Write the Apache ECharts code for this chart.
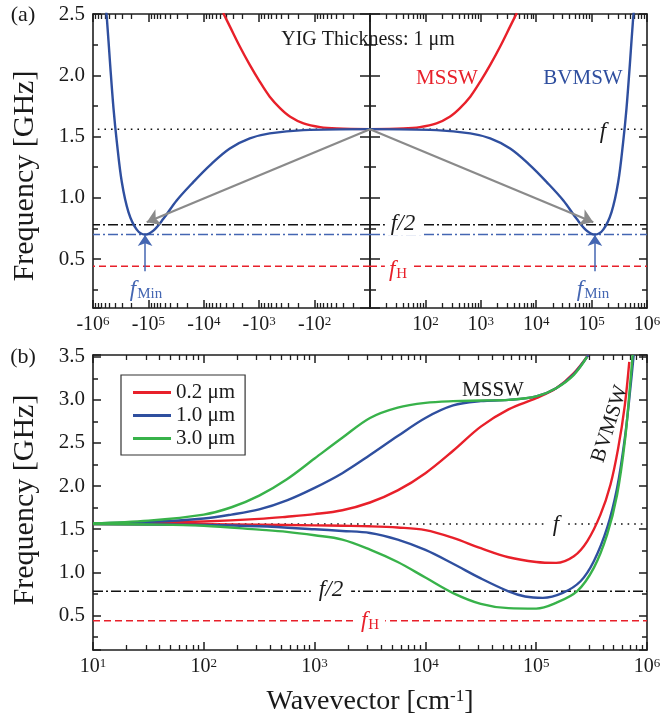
<!DOCTYPE html>
<html><head><meta charset="utf-8">
<script src="https://cdn.jsdelivr.net/npm/echarts@6/dist/echarts.min.js"></script>
<style>html,body{margin:0;padding:0;background:#fff}#c{width:663px;height:722px}</style>
</head><body><div id="c"></div>
<script>
// ---------- DATA ----------
// Panel (a): YIG thickness 1 µm, curves identical for +k and -k (x = log10|k| [cm^-1])
const aMSSWExp = [1.0, 1.6, 1.9, 2.2, 2.44, 2.62, 2.81, 2.99, 3.17, 3.35, 3.53, 3.65];
const aMSSWVal = [1.56, 1.566, 1.577, 1.607, 1.661, 1.73, 1.825, 1.948, 2.085, 2.235, 2.399, 2.508];
const aBVExp = [1.0, 2.2, 2.81, 3.17, 3.53, 3.89, 4.19, 4.49, 4.73, 4.91, 5.06, 5.21, 5.36, 5.48, 5.57, 5.63, 5.69, 5.75, 5.77];
const aBVVal = [1.56, 1.552, 1.525, 1.484, 1.402, 1.265, 1.128, 0.978, 0.828, 0.732, 0.70, 0.74, 0.883, 1.128, 1.456, 1.73, 2.085, 2.467, 2.55];
const fRef = 1.56, fHalf = 0.78, fMinVal = 0.70, fHVal = 0.44;
const arrowTipExp = 5.03, arrowTipVal = 0.80;   // grey arrows
const fMinExp = 5.06, fMinArrowFrom = 0.40;       // blue f_Min arrows

// Panel (b): three thicknesses, MSSW (upper) and BVMSW (lower) branches
const b02UpExp = [1.0, 1.5, 2.0, 2.5, 2.75, 3.0, 3.25, 3.5, 3.75, 4.0, 4.25, 4.5, 4.75, 5.0, 5.18, 5.34, 5.47];
const b02UpVal = [1.565, 1.575, 1.59, 1.62, 1.645, 1.675, 1.72, 1.81, 1.95, 2.15, 2.41, 2.69, 2.89, 3.02, 3.135, 3.31, 3.52];
const b10UpExp = [1.0, 1.5, 2.0, 2.25, 2.5, 2.75, 3.0, 3.25, 3.5, 3.75, 4.0, 4.25, 4.5, 4.75, 5.0, 5.18, 5.34, 5.47];
const b10UpVal = [1.569, 1.585, 1.625, 1.67, 1.73, 1.835, 1.98, 2.15, 2.36, 2.58, 2.79, 2.935, 2.985, 3.0, 3.04, 3.135, 3.3, 3.52];
const b30UpExp = [1.0, 1.5, 2.0, 2.25, 2.5, 2.75, 3.0, 3.25, 3.5, 3.75, 4.0, 4.25, 4.5, 4.75, 5.0, 5.18, 5.34, 5.46];
const b30UpVal = [1.569, 1.60, 1.67, 1.755, 1.89, 2.08, 2.32, 2.56, 2.79, 2.91, 2.965, 2.985, 2.992, 3.0, 3.04, 3.135, 3.29, 3.5];
const b02LoExp = [1.0, 2.0, 2.5, 3.0, 3.25, 3.5, 3.75, 4.0, 4.25, 4.5, 4.75, 5.0, 5.18, 5.34, 5.46, 5.58, 5.67, 5.74, 5.8, 5.84];
const b02LoVal = [1.56, 1.557, 1.553, 1.545, 1.54, 1.534, 1.52, 1.49, 1.40, 1.28, 1.175, 1.12, 1.11, 1.187, 1.36, 1.669, 2.016, 2.44, 2.94, 3.44];
const b10LoExp = [1.0, 2.0, 2.5, 3.0, 3.25, 3.5, 3.75, 4.0, 4.25, 4.5, 4.75, 4.9, 5.06, 5.24, 5.4, 5.52, 5.64, 5.73, 5.8, 5.85, 5.88];
const b10LoVal = [1.56, 1.55, 1.534, 1.50, 1.48, 1.457, 1.38, 1.26, 1.10, 0.93, 0.78, 0.72, 0.704, 0.762, 0.897, 1.129, 1.515, 1.978, 2.556, 3.135, 3.52];
const b30LoExp = [1.0, 1.5, 2.0, 2.5, 2.75, 3.0, 3.25, 3.5, 3.75, 4.0, 4.25, 4.5, 4.75, 5.0, 5.18, 5.37, 5.52, 5.64, 5.73, 5.8, 5.85, 5.87];
const b30LoVal = [1.56, 1.555, 1.54, 1.495, 1.47, 1.43, 1.38, 1.264, 1.12, 0.94, 0.76, 0.635, 0.585, 0.58, 0.647, 0.782, 1.052, 1.437, 1.90, 2.518, 3.21, 3.52];
const legendNames = ['0.2 μm', '1.0 μm', '3.0 μm'];

// tick label values
const decades = [1e1, 1e2, 1e3, 1e4, 1e5, 1e6];
const aXLabels = [1e2, 1e3, 1e4, 1e5, 1e6];

// ---------- STYLE ----------
const FONT = 'Liberation Serif';
const AX = '#1e1e1e';
const RED = '#e8202a', BLUE = '#2f4f9f', GREEN = '#38b24a', GRAY = '#8a8a8a', LBLUE = '#4466b2';
const pts = (ex, va) => ex.map((e, i) => [Math.pow(10, e), va[i]]);
const expOf = v => Math.round(Math.log10(v));

const xAxes = [], yAxes = [];
function addX(o) { xAxes.push(o); return xAxes.length - 1; }
function addY(o) { yAxes.push(o); return yAxes.length - 1; }

const supRich = {
  b: { fontFamily: FONT, fontSize: 20, color: '#1a1a1a', lineHeight: 20, verticalAlign: 'bottom' },
  s: { fontFamily: FONT, fontSize: 13, color: '#1a1a1a', lineHeight: 13, verticalAlign: 'top', padding: [0, 0, 8, 0] }
};
function logX(grid, pos, inverse, labelVals, prefix) {
  return addX({
    type: 'log', logBase: 10, gridIndex: grid, position: pos, min: 10, max: 1e6, inverse: !!inverse,
    axisLine: { show: true, onZero: false, lineStyle: { color: AX, width: 1.6 } },
    axisTick: { show: true, inside: true, length: 8, lineStyle: { color: AX, width: 1.5 } },
    minorTick: { show: true, splitNumber: 9, length: 5, lineStyle: { color: AX, width: 1.3 } },
    axisLabel: labelVals ? {
      show: true, margin: 7, customValues: labelVals,
      formatter: v => '{b|' + prefix + '10}{s|' + expOf(v) + '}', rich: supRich
    } : { show: false },
    splitLine: { show: false }, minorSplitLine: { show: false }
  });
}
function linY(grid, pos, min, max, step, len, withLabels, showLine) {
  return addY({
    type: 'value', gridIndex: grid, position: pos, min: min, max: max,
    minInterval: step, maxInterval: step,
    axisLine: { show: showLine, onZero: false, lineStyle: { color: AX, width: 1.6 } },
    axisTick: { show: true, inside: true, length: len, lineStyle: { color: AX, width: 1.5 } },
    axisLabel: withLabels ? {
      show: true, margin: 8, fontFamily: FONT, fontSize: 21, color: '#1a1a1a',
      formatter: v => (Math.abs(v * 2 - Math.round(v * 2)) < 1e-6 ? v.toFixed(1) : '')
    } : { show: false },
    splitLine: { show: false }, minorTick: { show: false }
  });
}

const grids = [
  { left: 93, top: 14, width: 277, height: 294 },
  { left: 370, top: 14, width: 277, height: 294 },
  { left: 93, top: 355, width: 554, height: 295 }
].map(g => Object.assign(g, { containLabel: false, outerBoundsMode: 'none', show: false }));

// Grid 0 (a, negative k)
const xL = logX(0, 'bottom', true, aXLabels, '-');
logX(0, 'top', true);
const yL = linY(0, 'left', 0.1, 2.5, 0.5, 8, true, true);
linY(0, 'left', 0.1, 2.5, 0.25, 5, false, false);
linY(0, 'right', 0.1, 2.5, 0.5, 10, false, true);
linY(0, 'right', 0.1, 2.5, 0.25, 6, false, false);
// Grid 1 (a, positive k)
const xR = logX(1, 'bottom', false, aXLabels, '');
logX(1, 'top', false);
const yR = linY(1, 'left', 0.1, 2.5, 0.5, 10, false, true);
linY(1, 'left', 0.1, 2.5, 0.25, 6, false, false);
linY(1, 'right', 0.1, 2.5, 0.5, 8, false, true);
linY(1, 'right', 0.1, 2.5, 0.25, 5, false, false);
// Grid 2 (b)
const xB = logX(2, 'bottom', false, decades, '');
logX(2, 'top', false);
const yB = linY(2, 'left', 0.1, 3.52, 0.5, 8, true, true);
linY(2, 'left', 0.1, 3.52, 0.25, 5, false, false);
linY(2, 'right', 0.1, 3.52, 0.5, 8, false, true);
linY(2, 'right', 0.1, 3.52, 0.25, 5, false, false);

function hline(xi, yi, v, color, type, w) {
  return { type: 'line', xAxisIndex: xi, yAxisIndex: yi, data: [[10, v], [1e6, v]], symbol: 'none',
           lineStyle: { color: color, width: w || 1.5, type: type }, silent: true, z: 1 };
}
function curve(xi, yi, data, color, name, z) {
  const s = { type: 'line', xAxisIndex: xi, yAxisIndex: yi, data: data, symbol: 'none', showSymbol: false,
              smooth: 0.35, lineStyle: { color: color, width: 2.4 }, itemStyle: { color: color },
              clip: true, silent: true, z: z || 3 };
  if (name) s.name = name;
  return s;
}
const DOT = [1.6, 5], DASHDOT = [10, 3, 2, 3], DASH = [7, 4];
function arrows(x0, y0, x1, y1, color, w, size) {
  return { silent: true, symbol: ['none', 'arrow'], symbolSize: size, label: { show: false },
           lineStyle: { color: color, width: w, type: 'solid' }, emphasis: { disabled: true },
           data: [[{ coord: [x0, y0] }, { coord: [x1, y1] }]] };
}

const series = [];
[[xL, yL], [xR, yR]].forEach(([xi, yi]) => {
  series.push(hline(xi, yi, fRef, '#111', DOT));
  series.push(hline(xi, yi, fHalf, '#111', DASHDOT));
  series.push(hline(xi, yi, fMinVal, LBLUE, DASHDOT));
  series.push(hline(xi, yi, fHVal, RED, DASH));
  series.push(curve(xi, yi, pts(aMSSWExp, aMSSWVal), RED));
  series.push(curve(xi, yi, pts(aBVExp, aBVVal), BLUE));
  series.push({ type: 'line', xAxisIndex: xi, yAxisIndex: yi, data: [], symbol: 'none', z: 4,
                markLine: arrows(10, fRef, Math.pow(10, arrowTipExp), arrowTipVal, GRAY, 2.2, 13) });
  series.push({ type: 'line', xAxisIndex: xi, yAxisIndex: yi, data: [], symbol: 'none', z: 4,
                markLine: arrows(Math.pow(10, fMinExp), fMinArrowFrom, Math.pow(10, fMinExp), fMinVal - 0.005, LBLUE, 1.5, 11) });
});
series.push(hline(xB, yB, fRef, '#111', DOT));
series.push(hline(xB, yB, fHalf, '#111', DASHDOT));
series.push(hline(xB, yB, fHVal, RED, DASH));
series.push(curve(xB, yB, pts(b02UpExp, b02UpVal), RED, legendNames[0], 3));
series.push(curve(xB, yB, pts(b02LoExp, b02LoVal), RED, legendNames[0], 3));
series.push(curve(xB, yB, pts(b10UpExp, b10UpVal), BLUE, legendNames[1], 4));
series.push(curve(xB, yB, pts(b10LoExp, b10LoVal), BLUE, legendNames[1], 4));
series.push(curve(xB, yB, pts(b30UpExp, b30UpVal), GREEN, legendNames[2], 5));
series.push(curve(xB, yB, pts(b30LoExp, b30LoVal), GREEN, legendNames[2], 5));

// ---------- TEXT ----------
function T(x, y, text, o) {
  o = o || {};
  const st = { text: text, fill: o.fill || '#1a1a1a', align: 'center', verticalAlign: 'middle',
               font: (o.italic ? 'italic ' : '') + (o.size || 21) + 'px "' + FONT + '"' };
  if (o.rich) st.rich = o.rich;
  if (o.bg) { st.backgroundColor = '#fff'; st.padding = o.pad || [0, 4]; }
  return { type: 'text', x: x, y: y, rotation: o.rot || 0, z: 100, silent: true, style: st };
}
function subRich(color) {
  return {
    i: { fontFamily: FONT, fontStyle: 'italic', fontSize: 23, fill: color, lineHeight: 23, verticalAlign: 'top' },
    s: { fontFamily: FONT, fontSize: 15, fill: color, lineHeight: 15, verticalAlign: 'bottom', padding: [11, 0, 0, 1] }
  };
}
const titleRich = {
  a: { fontFamily: FONT, fontSize: 28, fill: '#1a1a1a', lineHeight: 28, verticalAlign: 'bottom' },
  s: { fontFamily: FONT, fontSize: 17, fill: '#1a1a1a', lineHeight: 17, verticalAlign: 'top', padding: [0, 0, 12, 0] }
};
const graphics = [
  T(23, 15, '(a)', { size: 22 }),
  T(23, 357, '(b)', { size: 22 }),
  T(368, 40, 'YIG Thickness: 1 μm', { size: 20 }),
  T(447, 78, 'MSSW', { fill: RED }),
  T(583, 78, 'BVMSW', { fill: BLUE }),
  T(603, 132, 'f', { italic: true, size: 23, bg: true }),
  T(403, 224, 'f/2', { italic: true, size: 23, bg: true, pad: [0, 6] }),
  T(398, 270, '{i|f}{s|H}', { rich: subRich(RED), bg: true }),
  T(146, 290, '{i|f}{s|Min}', { rich: subRich(LBLUE) }),
  T(593, 290, '{i|f}{s|Min}', { rich: subRich(LBLUE) }),
  T(493, 390, 'MSSW', { size: 21 }),
  T(610, 424, 'BVMSW', { size: 21, rot: 1.26 }),
  T(556, 525, 'f', { italic: true, size: 23, bg: true, pad: [0, 6] }),
  T(331, 590, 'f/2', { italic: true, size: 23, bg: true, pad: [0, 8] }),
  T(370, 621, '{i|f}{s|H}', { rich: subRich(RED), bg: true, pad: [0, 6] }),
  T(25, 176, 'Frequency [GHz]', { size: 30, rot: Math.PI / 2 }),
  T(25, 500, 'Frequency [GHz]', { size: 30, rot: Math.PI / 2 }),
  T(370, 702, '{a|Wavevector [cm}{s|-1}{a|]}', { rich: titleRich })
];

const chart = echarts.init(document.getElementById('c'), null, { renderer: 'canvas' });
chart.setOption({
  animation: false,
  backgroundColor: '#fff',
  textStyle: { fontFamily: FONT },
  grid: grids,
  xAxis: xAxes,
  yAxis: yAxes,
  legend: {
    show: true, data: legendNames, orient: 'vertical', left: 121, top: 375,
    icon: 'rect', itemWidth: 38, itemHeight: 3, itemGap: 2, selectedMode: false,
    padding: [7, 10, 6, 12], borderColor: '#333', borderWidth: 1.2, backgroundColor: '#fff',
    textStyle: { fontFamily: FONT, fontSize: 21, color: '#1a1a1a', lineHeight: 21 }
  },
  series: series,
  graphic: graphics
});
</script>
</body></html>
